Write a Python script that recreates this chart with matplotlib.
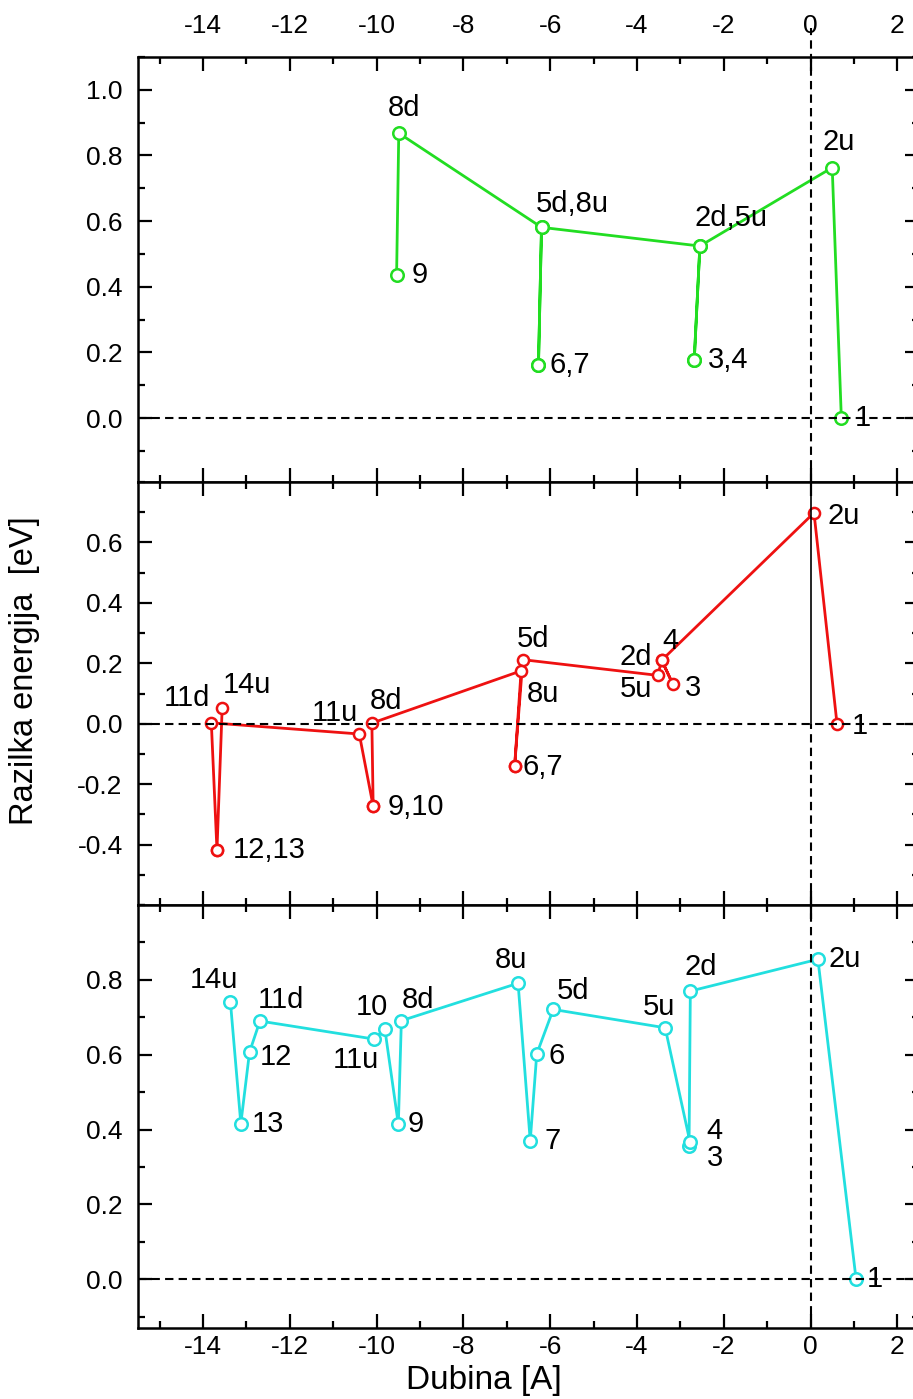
"""Razlika energija duz putanje za tri konfiguracije (tri panela, zajednicka x os)."""

import matplotlib

matplotlib.use("Agg")
import matplotlib.pyplot as plt
from matplotlib.ticker import MultipleLocator

plt.rcParams["font.family"] = ["Liberation Sans", "DejaVu Sans"]
plt.rcParams["axes.unicode_minus"] = False

DPI = 100
FIG_W, FIG_H = 913, 1399
# px -> pt for annotation offsets
PX = 72.0 / DPI

# states along the path; the upper panel stops at 9
states_short = ["1", "2u", "2d", "3", "4", "5u", "5d", "6", "7", "8u", "8d", "9"]
states_long = states_short + ["10", "11u", "11d", "12", "13", "14u"]

# upper panel (green)
green_x = [0.71, 0.50, -2.55, -2.68, -2.68, -2.55, -6.20, -6.27, -6.27, -6.20, -9.49, -9.54]
green_y = [0.00, 0.763, 0.524, 0.177, 0.177, 0.524, 0.581, 0.162, 0.162, 0.581, 0.868, 0.436]
green_text = ["1", "2u", "2d,5u", "3,4", "5d,8u", "6,7", "8d", "9"]
green_anchor = ["1", "2u", "2d", "3", "5d", "6", "8d", "9"]

# middle panel (red)
red_x = [0.61, 0.08, -3.43, -3.18, -3.43, -3.52, -6.63, -6.82, -6.82, -6.67,
         -10.11, -10.08, -10.08, -10.40, -13.81, -13.68, -13.68, -13.56]
red_y = [0.00, 0.698, 0.210, 0.133, 0.210, 0.160, 0.212, -0.141, -0.141, 0.175,
         0.002, -0.273, -0.273, -0.034, 0.003, -0.419, -0.419, 0.053]
red_text = ["1", "2u", "2d", "4", "3", "5u", "5d", "8u", "6,7", "8d", "9,10",
            "11u", "11d", "12,13", "14u"]
red_anchor = ["1", "2u", "2d", "4", "3", "5u", "5d", "8u", "6", "8d", "9",
              "11u", "11d", "12", "14u"]

# lower panel (cyan)
cyan_x = [1.05, 0.17, -2.77, -2.80, -2.78, -3.35, -5.93, -6.31, -6.46, -6.74,
          -9.43, -9.50, -9.81, -10.07, -12.69, -12.93, -13.13, -13.37]
cyan_y = [0.00, 0.855, 0.770, 0.355, 0.368, 0.672, 0.721, 0.602, 0.370, 0.791,
          0.691, 0.414, 0.668, 0.642, 0.690, 0.607, 0.416, 0.741]
cyan_text = ["1", "2u", "2d", "3", "4", "5u", "5d", "6", "7", "8u", "8d", "9",
             "10", "11u", "11d", "12", "13", "14u"]

# label offsets from the anchor marker, pixels (right, up)
GREEN_OFF = {"1": (21, 0), "2u": (6, 26), "2d,5u": (31, 28), "3,4": (34, 0),
             "5d,8u": (31, 23), "6,7": (31, 0), "8d": (5, 25), "9": (23, 0)}
RED_OFF = {"1": (23, -2), "2u": (30, -3), "2d": (-26, 3), "4": (9, 19),
           "3": (20, -4), "5u": (-22, -14), "5d": (10, 21), "8u": (22, -23),
           "6,7": (28, -1), "8d": (14, 22), "9,10": (43, -1), "11u": (-24, 21),
           "11d": (-24, 25), "12,13": (52, 0), "14u": (25, 23)}
CYAN_OFF = {"1": (19, 0), "2u": (27, 0), "2d": (10, 24), "3": (26, -12),
            "4": (25, 11), "5u": (-6, 21), "5d": (20, 18), "6": (20, -2),
            "7": (22, 0), "8u": (-7, 23), "8d": (17, 21), "9": (17, 0),
            "10": (-13, 22), "11u": (-18, -21), "11d": (21, 21), "12": (26, -5),
            "13": (27, 0), "14u": (-16, 22)}

DASH = (0, (4, 2.5))
LEFT = 138 / FIG_W
WIDTH = (919 - 138) / FIG_W


def _rect(top_px, bottom_px):
    return [LEFT, 1 - bottom_px / FIG_H, WIDTH, (bottom_px - top_px) / FIG_H]


def draw_panel(ax, xs, ys, states, texts, anchors, offsets, color, ms, ylim, yticks):
    """One panel: path with open circles, state labels, zero guides."""
    ax.plot(xs, ys, color=color, lw=2, marker="o", ms=ms, mfc="white",
            mec=color, mew=1.8, zorder=2)
    for text, anchor in zip(texts, anchors):
        i = states.index(anchor)
        dx, dy = offsets[text]
        ax.annotate(text, (xs[i], ys[i]), xytext=(dx * PX, dy * PX),
                    textcoords="offset points", ha="center", va="center",
                    fontsize=21, zorder=4)
    ax.axhline(0, color="k", lw=1.5, ls=DASH, zorder=3)
    ax.set_xlim(-15.5, 2.5)
    ax.set_ylim(*ylim)
    ax.set_yticks(yticks)
    ax.xaxis.set_major_locator(MultipleLocator(2))
    ax.xaxis.set_minor_locator(MultipleLocator(1))
    ax.yaxis.set_minor_locator(MultipleLocator(0.1))
    ax.tick_params(which="both", direction="in", top=True, right=True,
                   width=1.6, labelsize=19, labelbottom=False)
    ax.tick_params(which="major", length=10)
    ax.tick_params(which="minor", length=5)
    ax.tick_params(axis="y", pad=11)
    for spine in ax.spines.values():
        spine.set_linewidth(1.8)


fig = plt.figure(figsize=(FIG_W / DPI, FIG_H / DPI), dpi=DPI)
ax_top = fig.add_axes(_rect(57, 482))
ax_mid = fig.add_axes(_rect(482, 905))
ax_bot = fig.add_axes(_rect(905, 1328))

draw_panel(ax_top, green_x, green_y, states_short, green_text, green_anchor,
           GREEN_OFF, "#22dd22", 9, (-0.195, 1.1), [0.0, 0.2, 0.4, 0.6, 0.8, 1.0])
draw_panel(ax_mid, red_x, red_y, states_long, red_text, red_anchor,
           RED_OFF, "#ee1111", 8, (-0.6, 0.8), [-0.4, -0.2, 0.0, 0.2, 0.4, 0.6])
draw_panel(ax_bot, cyan_x, cyan_y, states_long, cyan_text, cyan_text,
           CYAN_OFF, "#22dfdf", 9, (-0.13, 1.0), [0.0, 0.2, 0.4, 0.6, 0.8])

# x = 0 guide; it runs up through the top tick label, and is solid above 0 in the middle panel
ax_top.axvline(0, ymin=0, ymax=1 + 29 / 425, color="k", lw=1.5, ls=DASH,
               clip_on=False, zorder=3)
zero_frac = 0.6 / 1.4
ax_mid.axvline(0, ymin=0, ymax=zero_frac, color="k", lw=1.5, ls=DASH, zorder=3)
ax_mid.axvline(0, ymin=zero_frac, ymax=1, color="k", lw=1.2, zorder=3)
ax_bot.axvline(0, color="k", lw=1.5, ls=DASH, zorder=3)

ax_top.tick_params(axis="x", labeltop=True, pad=14)
ax_bot.tick_params(axis="x", labelbottom=True, pad=5)

fig.text(25 / FIG_W, 1 - 671 / FIG_H, "Razilka energija  [eV]", rotation=90,
         ha="center", va="center", fontsize=23.5)
fig.text(484 / FIG_W, 1 - 1380 / FIG_H, "Dubina [A]", ha="center",
         va="center", fontsize=24)

fig.savefig("out.png", dpi=DPI)
plt.close(fig)
